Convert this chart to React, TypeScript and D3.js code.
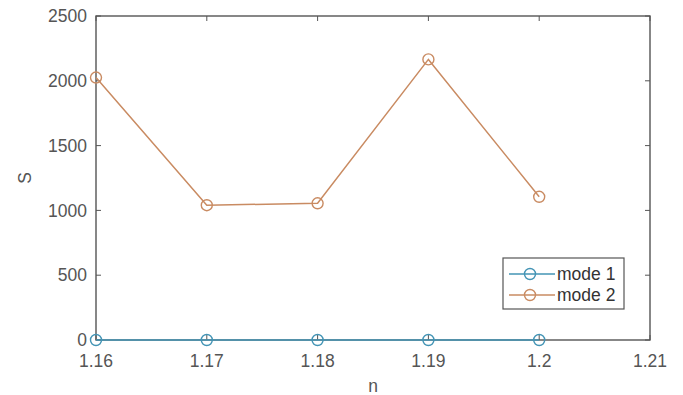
import React from "react";
import * as d3 from "d3";

const nValues = [1.16, 1.17, 1.18, 1.19, 1.2];
const mode1 = [0, 0, 0, 0, 0];
const mode2 = [2025, 1040, 1055, 2165, 1105];
const xTicks = [1.16, 1.17, 1.18, 1.19, 1.2, 1.21];
const xTickLabels = ["1.16", "1.17", "1.18", "1.19", "1.2", "1.21"];
const yTicks = [0, 500, 1000, 1500, 2000, 2500];
const seriesNames = ["mode 1", "mode 2"];
const seriesColors = ["#4394b5", "#c98b62"];

const W = 683;
const H = 395;
const margin = { left: 96, right: 33, top: 16, bottom: 55 };

export default function App() {
  const x = d3
    .scaleLinear()
    .domain([1.16, 1.21])
    .range([margin.left, W - margin.right]);
  const y = d3
    .scaleLinear()
    .domain([0, 2500])
    .range([H - margin.bottom, margin.top]);

  const line = d3
    .line<number>()
    .x((_, i) => x(nValues[i]))
    .y((v) => y(v));

  const series = [mode1, mode2];
  const x0 = x.range()[0];
  const x1 = x.range()[1];
  const yB = y.range()[0];
  const yT = y.range()[1];
  const tick = 5;
  const axisColor = "#555";
  const textColor = "#555";
  const font = "'Liberation Sans', Arial, sans-serif";
  const fs = 17.5;

  const legX = 503;
  const legY = 258;
  const legW = 121;
  const legH = 51;

  return (
    <svg
      width={W}
      height={H}
      style={{ position: "absolute", left: 0, top: 0, background: "#fff" }}
      fontFamily={font}
    >
      {/* axes box */}
      <rect
        x={x0}
        y={yT}
        width={x1 - x0}
        height={yB - yT}
        fill="none"
        stroke={axisColor}
        strokeWidth={1.4}
      />
      {/* x ticks, inward on bottom and top */}
      {xTicks.map((t, i) => (
        <g key={"xt" + i}>
          <line x1={x(t)} x2={x(t)} y1={yB} y2={yB - tick} stroke={axisColor} />
          <line x1={x(t)} x2={x(t)} y1={yT} y2={yT + tick} stroke={axisColor} />
          <text
            x={x(t)}
            y={yB + 27}
            textAnchor="middle"
            fontSize={fs}
            fill={textColor}
          >
            {xTickLabels[i]}
          </text>
        </g>
      ))}
      {/* y ticks, inward on left and right */}
      {yTicks.map((t, i) => (
        <g key={"yt" + i}>
          <line x1={x0} x2={x0 + tick} y1={y(t)} y2={y(t)} stroke={axisColor} />
          <line x1={x1} x2={x1 - tick} y1={y(t)} y2={y(t)} stroke={axisColor} />
          <text
            x={x0 - 9}
            y={y(t)}
            dy="0.35em"
            textAnchor="end"
            fontSize={fs}
            fill={textColor}
          >
            {t}
          </text>
        </g>
      ))}
      {/* axis labels */}
      <text
        x={373}
        y={H - 3}
        textAnchor="middle"
        fontSize={fs}
        fill={textColor}
      >
        n
      </text>
      <text
        transform={`translate(31, ${(yT + yB) / 2}) rotate(-90)`}
        textAnchor="middle"
        fontSize={fs}
        fill={textColor}
      >
        S
      </text>
      {/* series */}
      {series.map((s, k) => (
        <g key={"s" + k}>
          <path
            d={line(s) || ""}
            fill="none"
            stroke={seriesColors[k]}
            strokeWidth={1.5}
          />
          {s.map((v, i) => (
            <circle
              key={i}
              cx={x(nValues[i])}
              cy={y(v)}
              r={5.5}
              fill="none"
              stroke={seriesColors[k]}
              strokeWidth={1.4}
            />
          ))}
        </g>
      ))}
      {/* legend */}
      <rect
        x={legX}
        y={legY}
        width={legW}
        height={legH}
        fill="#fff"
        stroke={axisColor}
        strokeWidth={1.2}
      />
      {seriesNames.map((name, k) => {
        const ly = legY + 16 + k * 21;
        return (
          <g key={"l" + k}>
            <line
              x1={legX + 6}
              x2={legX + 52}
              y1={ly}
              y2={ly}
              stroke={seriesColors[k]}
              strokeWidth={1.5}
            />
            <circle
              cx={legX + 27}
              cy={ly}
              r={5.5}
              fill="none"
              stroke={seriesColors[k]}
              strokeWidth={1.4}
            />
            <text
              x={legX + 54}
              y={ly}
              dy="0.35em"
              fontSize={fs}
              fill="#333"
            >
              {name}
            </text>
          </g>
        );
      })}
    </svg>
  );
}
